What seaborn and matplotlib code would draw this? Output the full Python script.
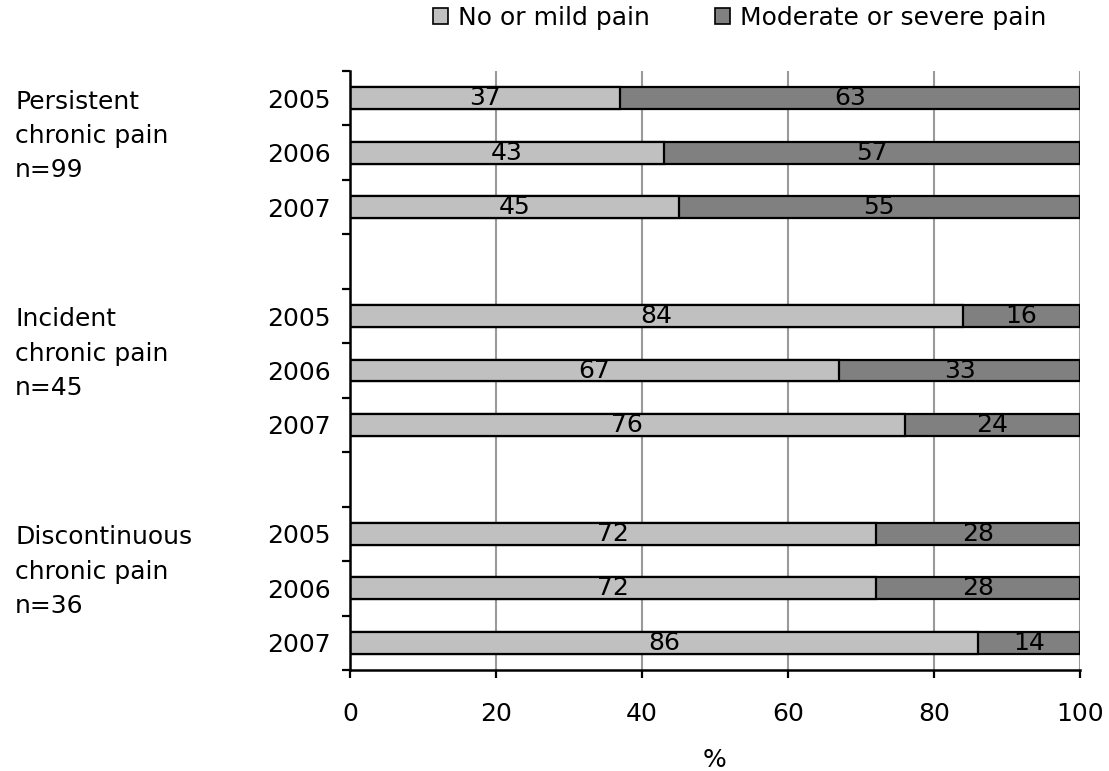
import matplotlib
matplotlib.use("Agg")
import matplotlib.pyplot as plt
import seaborn as sns
import pandas as pd
from matplotlib.patches import Patch

groups = ["Persistent\nchronic pain\nn=99", "Incident\nchronic pain\nn=45", "Discontinuous\nchronic pain\nn=36"]
years = ["2005", "2006", "2007"]
mild = [37, 43, 45, 84, 67, 76, 72, 72, 86]
severe = [63, 57, 55, 16, 33, 24, 28, 28, 14]

slots = []
for gi in range(len(groups)):
    for y in years:
        slots.append(f"g{gi}-{y}")
    if gi < len(groups) - 1:
        slots.append(f"gap{gi}")
bar_slots = [s for s in slots if not s.startswith("gap")]

df = pd.DataFrame({"slot": bar_slots, "mild": mild, "severe": severe})
df["total"] = df["mild"] + df["severe"]

sns.set_theme(style="white")
plt.rcParams["font.family"] = ["DejaVu Sans"]
plt.rcParams["text.color"] = "black"
plt.rcParams["xtick.color"] = "black"
plt.rcParams["ytick.color"] = "black"
plt.rcParams["axes.labelcolor"] = "black"
FS = 18

fig = plt.figure(figsize=(11.09, 7.71), dpi=100)
ax = fig.add_axes([350/1109, 1-670/771, 730/1109, 599/771])

light = "#C0C0C0"
dark = "#808080"
sns.barplot(data=df, x="total", y="slot", order=slots, orient="h", color=dark,
            width=0.4, edgecolor="black", linewidth=1.6, ax=ax, saturation=1)
sns.barplot(data=df, x="mild", y="slot", order=slots, orient="h", color=light,
            width=0.4, edgecolor="black", linewidth=1.6, ax=ax, saturation=1)

pos = {s: i for i, s in enumerate(slots)}
for _, r in df.iterrows():
    yy = pos[r["slot"]]
    ax.text(r["mild"] / 2, yy, f"{r['mild']}", ha="center", va="center", fontsize=FS, color="black")
    ax.text(r["mild"] + r["severe"] / 2, yy, f"{r['severe']}", ha="center", va="center", fontsize=FS, color="black")

ax.set_xlim(0, 100)
ax.set_ylim(len(slots) - 0.5, -0.5)
ax.set_xticks([0, 20, 40, 60, 80, 100])
ax.set_xticklabels(["0", "20", "40", "60", "80", "100"], fontsize=FS)
ax.set_yticks([i - 0.5 for i in range(len(slots) + 1)])
ax.set_yticklabels([])
ax.set_yticks([pos[s] for s in bar_slots], minor=True)
ax.set_yticklabels([s.split("-")[1] for s in bar_slots], minor=True, fontsize=FS)
ax.tick_params(axis="y", which="major", length=6, width=1.6, color="black", left=True)
ax.tick_params(axis="y", which="minor", length=0, pad=14, left=True)
ax.tick_params(axis="x", which="major", length=6, width=1.6, color="black", bottom=True, pad=17)
ax.set_xlabel("%", fontsize=FS, labelpad=16)
ax.set_ylabel("")

ax.xaxis.grid(True, color="#9a9a9a", linewidth=1.5)
ax.yaxis.grid(False)
ax.set_axisbelow(True)
for side in ["top", "right"]:
    ax.spines[side].set_visible(False)
for side in ["left", "bottom"]:
    ax.spines[side].set_color("black")
    ax.spines[side].set_linewidth(1.8)

for gi, g in enumerate(groups):
    mid = pos[f"g{gi}-2006"]
    ax.annotate(g, xy=(15/1109, mid), xycoords=("figure fraction", "data"),
                xytext=(0, 12), textcoords="offset points",
                ha="left", va="center", fontsize=FS, linespacing=1.55)

handles = [Patch(facecolor=light, edgecolor="black", linewidth=1.2),
           Patch(facecolor=dark, edgecolor="black", linewidth=1.2)]
fig.legend(handles, ["No or mild pain", "Moderate or severe pain"], loc="center",
           bbox_to_anchor=(740/1109, 1-18/771), ncol=2, frameon=False, fontsize=FS,
           handlelength=0.6, handleheight=0.6, handletextpad=0.4, columnspacing=2.6)

fig.savefig("out.png", dpi=100)
